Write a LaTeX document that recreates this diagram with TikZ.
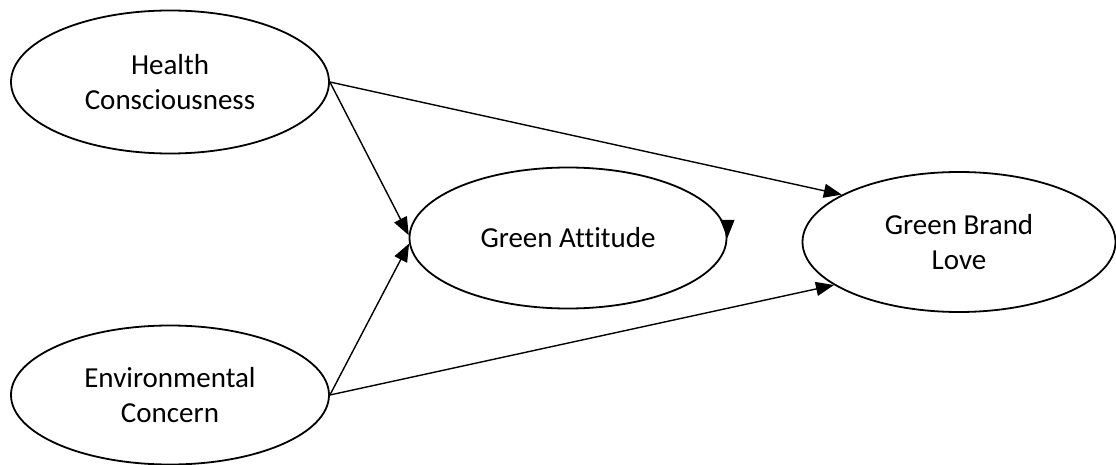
\documentclass[tikz,border=0pt]{standalone}
\usepackage{fontspec}
\setmainfont{Carlito}[Ligatures={NoCommon}]
\usetikzlibrary{shapes.geometric,arrows.meta}
\begin{document}
\begin{tikzpicture}[x=1pt,y=-1pt,
  construct/.style={ellipse,draw,line width=1.8pt,inner sep=0pt,align=center,
    font=\fontsize{29}{35.5}\selectfont},
  arr/.style={line width=1.4pt,-{Triangle[length=18pt,width=14pt]}}]
\useasboundingbox (0,0) rectangle (1116,465);
\node[construct,minimum width=318pt,minimum height=143pt] (hc) at (170,82) {Health\\Consciousness};
\node[construct,minimum width=318pt,minimum height=139pt] (ec) at (170,395) {Environmental\\Concern};
\node[construct,minimum width=317pt,minimum height=141pt] (ga) at (568,238) {Green Attitude};
\node[construct,minimum width=313pt,minimum height=140pt] (gbl) at (959,242) {Green Brand\\Love};
\draw[arr] (hc.east) -- (gbl.158);
\draw[arr] (hc.east) -- (ga.179);
\draw[arr] (ec.east) -- (ga.182);
\draw[arr] (ec.east) -- (gbl.199);
\coordinate (gatop) at ([yshift=18pt]ga.east);
\draw[arr] (gatop) -- (ga.east);
\end{tikzpicture}
\end{document}
